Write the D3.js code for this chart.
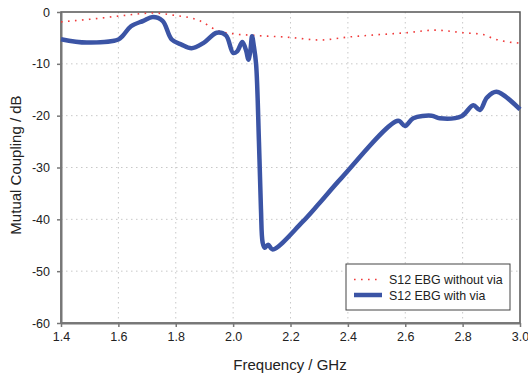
<!DOCTYPE html>
<html>
<head>
<meta charset="utf-8">
<script src="https://cdn.jsdelivr.net/npm/d3@7/dist/d3.min.js"></script>
<style>
  body { margin: 0; background: #fff; }
  text { font-family: "Liberation Sans", Arial, sans-serif; fill: #222; }
</style>
</head>
<body>
<div id="chart-area"></div>
<script>
// frequency (GHz) and S12 (dB)
var freqNoVia = [1.4, 1.5, 1.6, 1.72, 1.79, 1.884, 1.943, 2.0, 2.07, 2.198, 2.302, 2.407, 2.5, 2.604, 2.703, 2.802, 2.872, 2.906, 2.976, 3.0]
var s12NoVia  = [-1.9, -1.4, -0.8, -0.2, -0.6, -1.7, -3.5, -4.2, -4.5, -4.9, -5.4, -4.8, -4.4, -4.0, -3.5, -4.0, -4.35, -5.1, -5.9, -6.0]

var freqVia = [1.4, 1.49, 1.6, 1.615, 1.644, 1.687, 1.72, 1.754, 1.786, 1.82, 1.855, 1.896, 1.943, 1.975,
	2.0, 2.014, 2.032, 2.046, 2.053, 2.06, 2.066, 2.072, 2.08, 2.09, 2.097, 2.103, 2.11, 2.122, 2.138,
	2.24, 2.302, 2.378, 2.575, 2.599, 2.628, 2.692, 2.72, 2.796, 2.837, 2.86, 2.885, 2.918, 3.0]
var s12Via  = [-5.25, -5.9, -5.3, -4.6, -2.75, -1.7, -0.95, -1.7, -5.3, -6.3, -7.0, -6.0, -4.0, -4.5,
	-7.9, -7.6, -5.8, -7.6, -9.2, -7.5, -4.7, -6.5, -10, -25, -38, -44.5, -45.5, -44.9, -45.8,
	-40.6, -36.8, -32.0, -21.0, -22.0, -20.5, -20.0, -20.5, -20.1, -18.0, -18.9, -16.5, -15.4, -18.8]

var xTicks = [1.4, 1.6, 1.8, 2.0, 2.2, 2.4, 2.6, 2.8, 3.0]
var yTicks = [0, -10, -20, -30, -40, -50, -60]
var seriesNames = ["S12 EBG without via", "S12 EBG with via"]

var margin = { left:61, right:8, top:12, bottom:53 }
var width = 528 - margin.left - margin.right,
	height = 376 - margin.top - margin.bottom

var svg = d3.select("#chart-area")
    .append("svg")
    .attr("width", 528)
    .attr("height", 376)
var g = svg.append("g")
    .attr("transform", "translate(" + margin.left + ", " + margin.top + ")")

var x = d3.scaleLinear()
    .domain([1.4, 3.0])
    .range([0, width])
var y = d3.scaleLinear()
    .domain([-60, 0])
    .range([height, 0])

// dotted grid
g.append("g").selectAll("line")
    .data(xTicks.slice(1, -1))
    .enter().append("line")
    .attr("x1", d => x(d)).attr("x2", d => x(d))
    .attr("y1", 0).attr("y2", height)
    .attr("stroke", "#c8c8c8")
    .attr("stroke-dasharray", "1.5,3.5")
g.append("g").selectAll("line")
    .data(yTicks.slice(1, -1))
    .enter().append("line")
    .attr("x1", 0).attr("x2", width)
    .attr("y1", d => y(d)).attr("y2", d => y(d))
    .attr("stroke", "#c8c8c8")
    .attr("stroke-dasharray", "1.5,3.5")

// frame
g.append("rect")
    .attr("width", width)
    .attr("height", height)
    .attr("fill", "none")
    .attr("stroke", "#555")
    .attr("stroke-width", 1.5)

var xAxisCall = d3.axisBottom(x)
    .tickValues(xTicks)
    .tickFormat(d3.format(".1f"))
    .tickSize(4)
    .tickPadding(5)
    .tickSizeOuter(0)
var xAxis = g.append("g")
    .attr("transform", "translate(0," + height + ")")
    .call(xAxisCall)

var yAxisCall = d3.axisLeft(y)
    .tickValues(yTicks)
    .tickFormat(d => d)
    .tickSize(4)
    .tickPadding(7)
    .tickSizeOuter(0)
var yAxis = g.append("g")
    .call(yAxisCall)

xAxis.select(".domain").attr("stroke", "#777").attr("stroke-width", 2)
yAxis.select(".domain").attr("stroke", "#777").attr("stroke-width", 2)
g.selectAll(".tick line").attr("stroke", "#777").attr("stroke-width", 1.5)
g.selectAll(".tick text")
    .attr("font-size", "12.5px")
    .attr("font-family", "Liberation Sans, Arial, sans-serif")
    .attr("fill", "#222")

var line = d3.line()
    .x(d => x(d[0]))
    .y(d => y(d[1]))
    .curve(d3.curveMonotoneX)

var lineVia = d3.line()
    .x(d => x(d[0]))
    .y(d => y(d[1]))
    .curve(d3.curveCatmullRom.alpha(0.5))

g.append("path")
    .datum(d3.zip(freqNoVia, s12NoVia))
    .attr("fill", "none")
    .attr("stroke", "#f03a3a")
    .attr("stroke-width", 1.6)
    .attr("stroke-dasharray", "1.6,5.4")
    .attr("d", line)

g.append("path")
    .datum(d3.zip(freqVia, s12Via))
    .attr("fill", "none")
    .attr("stroke", "#3b54a5")
    .attr("stroke-width", 4.5)
    .attr("stroke-linejoin", "round")
    .attr("d", lineVia)

// legend
var legend = svg.append("g")
    .attr("transform", "translate(346, 264)")
legend.append("rect")
    .attr("width", 164)
    .attr("height", 46)
    .attr("fill", "#fff")
    .attr("stroke", "#444")
    .attr("stroke-width", 1)
legend.append("line")
    .attr("x1", 8).attr("x2", 36)
    .attr("y1", 15.5).attr("y2", 15.5)
    .attr("stroke", "#f03a3a")
    .attr("stroke-width", 1.6)
    .attr("stroke-dasharray", "1.6,5.4")
legend.append("line")
    .attr("x1", 8).attr("x2", 36)
    .attr("y1", 31).attr("y2", 31)
    .attr("stroke", "#3b54a5")
    .attr("stroke-width", 4.5)
legend.selectAll(".lbl")
    .data(seriesNames)
    .enter().append("text")
    .attr("class", "lbl")
    .attr("x", 43)
    .attr("y", (d, i) => 20 + i * 15.5)
    .attr("font-size", "12.4px")
    .text(d => d)

// axis titles
svg.append("text")
    .attr("x", 290)
    .attr("y", 370)
    .attr("font-size", "15px")
    .attr("text-anchor", "middle")
    .text("Frequency / GHz")
svg.append("text")
    .attr("transform", "rotate(-90)")
    .attr("x", -165)
    .attr("y", 21)
    .attr("font-size", "15px")
    .attr("text-anchor", "middle")
    .text("Mutual Coupling / dB")
</script>
</body>
</html>
